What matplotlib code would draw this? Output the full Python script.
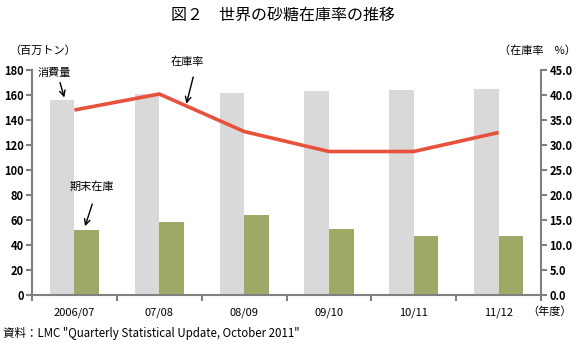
import numpy as np
import matplotlib
matplotlib.use("Agg")
import matplotlib.pyplot as plt

plt.rcParams['font.family'] = ['Noto Sans CJK JP', 'DejaVu Sans']

seasons = ['2006/07', '07/08', '08/09', '09/10', '10/11', '11/12']
consumption = [156, 160.8, 161.6, 163.2, 164, 164.8]   # 消費量 (百万トン)
end_stock = [52, 58.4, 64, 52.8, 47.2, 47.2]           # 期末在庫 (百万トン)
stock_ratio = [37, 40.2, 32.7, 28.7, 28.7, 32.5]       # 在庫率 (%)

axis_col = '#808080'
x = np.arange(len(seasons))
w = 0.29

fig = plt.figure(figsize=(5.75, 3.46), dpi=100)
ax = fig.add_axes([0.0557, 0.1474, 0.8852, 0.6503])
ax2 = ax.twinx()

ax.bar(x - w, consumption, w, align='edge', color='#d9d9d9', zorder=2)
ax.bar(x, end_stock, w, align='edge', color='#9caa66', zorder=2)
ax2.plot(x, stock_ratio, color='#e8513a', lw=2.6, solid_capstyle='butt',
         solid_joinstyle='miter', zorder=3)

ax.set_xlim(-0.5, len(seasons) - 0.5)
ax.set_ylim(0, 180)
ax.set_yticks(np.arange(0, 181, 20))
ax2.set_ylim(0, 45)
ax2.set_yticks(np.arange(0, 46, 5))
ax2.set_yticklabels([f'{v:.1f}' for v in np.arange(0, 46, 5)])

# group boundaries as major ticks, names as minor ticks
ax.set_xticks(np.arange(-0.5, len(seasons), 1))
ax.set_xticklabels([])
ax.set_xticks(x, minor=True)
ax.set_xticklabels(seasons, minor=True, fontsize=8)
ax.tick_params(axis='x', which='minor', length=0, pad=9)
ax.tick_params(axis='x', which='major', length=4, width=1.5, color=axis_col)

for a in (ax, ax2):
    for s in a.spines.values():
        s.set_color(axis_col)
        s.set_linewidth(1.5)
    a.spines['top'].set_visible(False)
ax.spines['right'].set_visible(False)
ax2.spines['left'].set_visible(False)
ax2.spines['bottom'].set_visible(False)
ax.tick_params(axis='y', length=4, width=1.5, color=axis_col, labelsize=8, pad=2)
ax2.tick_params(axis='y', length=4, width=1.5, color=axis_col, labelsize=8, pad=2)
for lbl in ax.get_yticklabels() + ax2.get_yticklabels():
    lbl.set_fontweight('bold')

ax.set_zorder(ax2.get_zorder() - 1)
ax.patch.set_visible(True)
ax2.patch.set_visible(False)

arrow = dict(arrowstyle='->', color='black', lw=1, shrinkA=0, shrinkB=0)
ax.text(-0.24, 177.6, '消費量', ha='center', va='center', fontsize=8)
ax.annotate('', xy=(-0.12, 158), xytext=(-0.17, 170), arrowprops=arrow,
            annotation_clip=False)
ax.text(1.33, 186.4, '在庫率', ha='center', va='center', fontsize=8)
ax.annotate('', xy=(1.32, 153), xytext=(1.40, 174.4), arrowprops=arrow,
            annotation_clip=False)
ax.text(0.21, 86.4, '期末在庫', ha='center', va='center', fontsize=8)
ax.annotate('', xy=(0.125, 55), xytext=(0.21, 72.8), arrowprops=arrow)

fig.text(0.493, 0.955, '図２　世界の砂糖在庫率の推移', ha='center', va='center',
         fontsize=11.5)
fig.text(0.075, 0.855, '（百万トン）', ha='center', va='center', fontsize=8)
fig.text(0.935, 0.855, '（在庫率　%）', ha='center', va='center', fontsize=8)
fig.text(0.955, 0.098, '（年度）', ha='center', va='center', fontsize=8)
fig.text(0.005, 0.035, '資料：LMC "Quarterly Statistical Update, October 2011"',
         ha='left', va='center', fontsize=8.3)

fig.savefig('out.png', dpi=100)
